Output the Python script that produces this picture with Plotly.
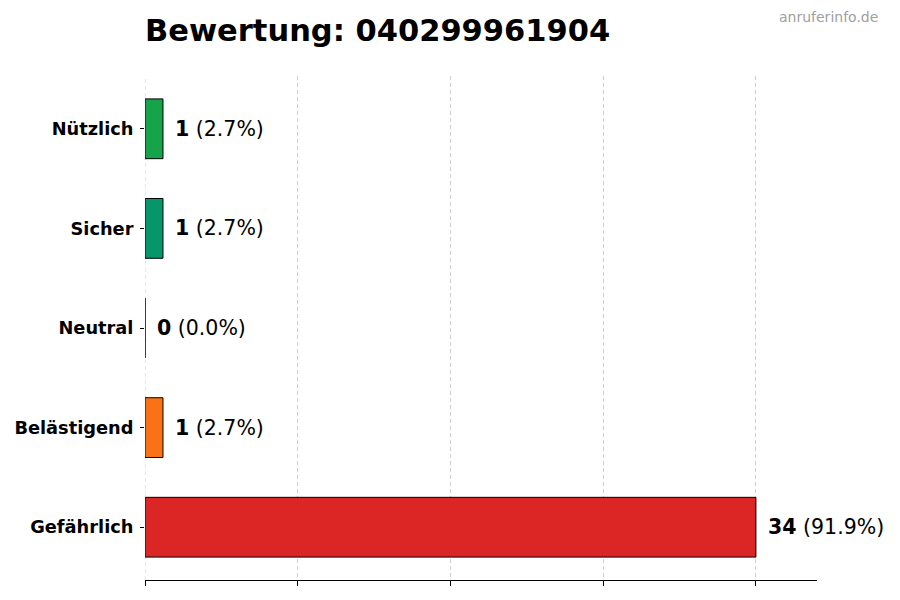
import plotly.graph_objects as go

# Rating categories, top to bottom
categories = ["Nützlich", "Sicher", "Neutral", "Belästigend", "Gefährlich"]
counts = [1, 1, 0, 1, 34]
colors = ["#16a34a", "#059669", "#9ca3af", "#f97316", "#dc2626"]
phone = "040299961904"

total = sum(counts)
pcts = [c / total * 100 for c in counts]
x_max = max(counts) * 1.1

fig = go.Figure()
fig.add_trace(go.Bar(
    x=counts,
    y=categories,
    orientation="h",
    width=0.6,
    marker=dict(color=colors, line=dict(color="black", width=1)),
    hoverinfo="skip",
))

# Value labels next to each bar
for cat, c, p in zip(categories, counts, pcts):
    fig.add_annotation(
        x=c, y=cat, xref="x", yref="y",
        text=f"<b>{c}</b> ({p:.1f}%)",
        showarrow=False, xanchor="left", yanchor="middle", xshift=10,
        font=dict(family="DejaVu Sans", size=20.5, color="black"),
    )

# gridline at zero (plotly skips it at the range edge)
fig.add_shape(
    type="line", xref="x", yref="paper", x0=0, x1=0, y0=0, y1=1,
    line=dict(color="#d0d0d0", width=1, dash="4px,3px"), layer="below",
)

# Watermark
fig.add_annotation(
    x=1.094, y=1.117, xref="paper", yref="paper",
    text="anruferinfo.de", showarrow=False,
    xanchor="right", yanchor="middle",
    font=dict(family="DejaVu Sans", size=14, color="#a0a0a0"),
)

# page body adds an 8px offset, so everything is pulled up/left by 8
fig.update_layout(
    width=900, height=600,
    margin=dict(l=137, r=91, t=68, b=28),
    plot_bgcolor="white", paper_bgcolor="white",
    showlegend=False,
    title=dict(
        text=f"<b>Bewertung: {phone}</b>",
        x=137 / 900, xanchor="left", xref="container",
        y=1 - 22 / 600, yanchor="middle", yref="container",
        font=dict(family="DejaVu Sans", size=30.5, color="black"),
    ),
    font=dict(family="DejaVu Sans", color="black"),
)

fig.update_xaxes(
    range=[0, x_max],
    tick0=0, dtick=max(counts) / 4,
    showticklabels=False,
    ticks="outside", ticklen=5, tickcolor="black",
    showline=True, linecolor="black", linewidth=1,
    showgrid=True, gridcolor="#d0d0d0", griddash="4px,3px", gridwidth=1,
    zeroline=False, automargin=False,
)
fig.update_yaxes(
    range=[len(categories) - 1 + 0.53, -0.53],
    ticks="outside", ticklen=4, tickcolor="black",
    ticklabelstandoff=3,
    tickfont=dict(family="DejaVu Sans", size=17.8, weight="bold", color="black"),
    showline=False, showgrid=False, zeroline=False, automargin=False,
)

fig.write_html("out.html")
